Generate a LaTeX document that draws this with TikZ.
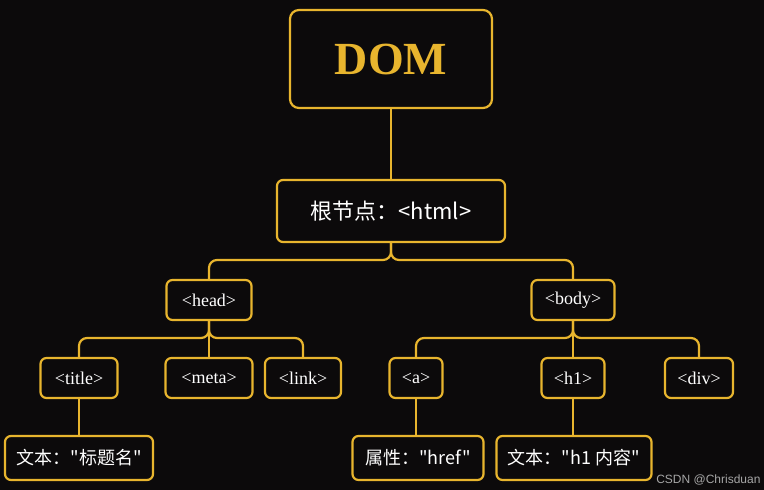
\documentclass[tikz,border=0pt]{standalone}
\usepackage{fontspec}
\setmainfont{Liberation Serif}
\newfontfamily\cjk{Noto Sans CJK SC}
\newfontfamily\wmfont{Liberation Sans}
\definecolor{bgblack}{HTML}{0C0A0B}
\definecolor{domgold}{HTML}{E8B52E}
\tikzset{
  tag/.style={draw=domgold, line width=2.2pt, rounded corners=6pt, fill=bgblack,
    text=white, font=\fontsize{18}{20}\selectfont, inner sep=0pt, minimum height=40pt},
  leaf/.style={tag, minimum height=44pt, font=\cjk\fontsize{18}{20}\selectfont},
  conn/.style={domgold, line width=2.2pt, rounded corners=8pt},
}
\begin{document}
\begin{tikzpicture}[x=1pt,y=-1pt]
\fill[bgblack] (0,0) rectangle (764,490);
\useasboundingbox (0,0) rectangle (764,490);
% top of the tree
\node[tag, minimum width=202pt, minimum height=98pt, rounded corners=9pt,
  text=domgold, font=\bfseries\fontsize{46}{50}\selectfont] (dom) at (391,59) {DOM};
\node[tag, minimum width=228pt, minimum height=62pt,
  font=\cjk\fontsize{22}{24}\selectfont] (html) at (391,211) {根节点：<html>};
% second level
\node[tag, minimum width=85pt] (head) at (209,300) {<head>};
\node[tag, minimum width=83pt] (body) at (573,300) {<body>};
% third level
\node[tag, minimum width=77pt] (title) at (79,378) {<title>};
\node[tag, minimum width=87pt] (meta) at (209,378) {<meta>};
\node[tag, minimum width=76pt] (link) at (303,378) {<link>};
\node[tag, minimum width=53pt] (a) at (416,378) {<a>};
\node[tag, minimum width=63pt] (h1) at (573,378) {<h1>};
\node[tag, minimum width=68pt] (div) at (699,378) {<div>};
% leaves
\node[leaf, minimum width=148pt] (titletext) at (79,458) {文本："标题名"};
\node[leaf, minimum width=131pt] (href) at (418,458) {属性："href"};
\node[leaf, minimum width=155pt] (h1text) at (574,458) {文本："h1 内容"};
% connectors
\draw[conn] (dom) -- (html);
\draw[conn] (html.south) -- (391,260) -| (head.north);
\draw[conn] (html.south) -- (391,260) -| (body.north);
\foreach \kid in {title,meta,link}
  \draw[conn] (head.south) -- (209,338) -| (\kid.north);
\foreach \kid in {a,h1,div}
  \draw[conn] (body.south) -- (573,338) -| (\kid.north);
\draw[conn] (title) -- (title |- titletext.north);
\draw[conn] (a) -- (a |- href.north);
\draw[conn] (h1) -- (h1 |- h1text.north);
\node[text=gray!70, font=\wmfont\fontsize{12}{14}\selectfont, anchor=east] (mark) at (764,480) {CSDN @Chrisduan};
\end{tikzpicture}
\end{document}
